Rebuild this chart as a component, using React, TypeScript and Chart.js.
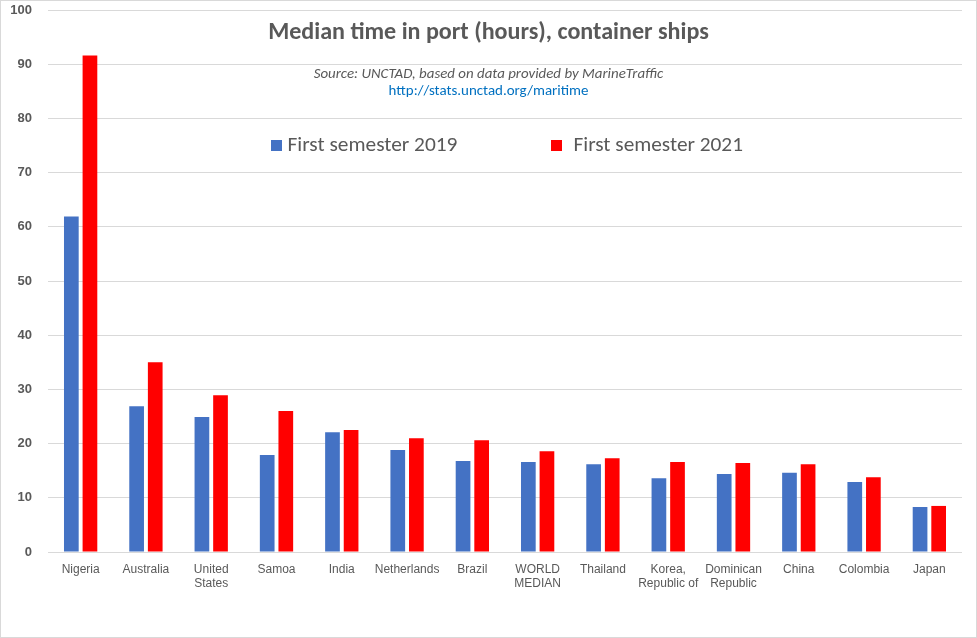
import React, { useEffect, useRef } from "react";
import { Chart, registerables } from "chart.js";

Chart.register(...registerables);

const categories: (string | string[])[] = [
  "Nigeria",
  "Australia",
  ["United", "States"],
  "Samoa",
  "India",
  "Netherlands",
  "Brazil",
  ["WORLD", "MEDIAN"],
  "Thailand",
  ["Korea,", "Republic of"],
  ["Dominican", "Republic"],
  "China",
  "Colombia",
  "Japan",
];

const series2019Label = "First semester 2019";
const series2021Label = "First semester 2021";

const values2019 = [61.9, 26.9, 24.9, 17.9, 22.1, 18.8, 16.8, 16.6, 16.2, 13.6, 14.4, 14.6, 12.9, 8.3];
const values2021 = [91.6, 35.0, 28.9, 26.0, 22.5, 21.0, 20.6, 18.6, 17.3, 16.6, 16.4, 16.2, 13.8, 8.5];

const titleText = "Median time in port (hours), container ships";
const sourceText = "Source: UNCTAD, based on data provided by MarineTraffic";
const urlText = "http://stats.unctad.org/maritime";

const yMin = 0;
const yMax = 100;
const yStep = 10;

const W = 977;
const H = 638;

function fitSize(ctx: CanvasRenderingContext2D, text: string, prefix: string, family: string, target: number) {
  ctx.font = `${prefix} 100px ${family}`;
  const w = ctx.measureText(text).width;
  return (100 * target) / w;
}

const overlayPlugin = {
  id: "overlay",
  beforeDraw(chart: any) {
    const ctx = chart.ctx as CanvasRenderingContext2D;
    ctx.save();
    ctx.fillStyle = "#ffffff";
    ctx.fillRect(0, 0, chart.width, chart.height);
    ctx.restore();
  },
  afterDraw(chart: any) {
    const ctx = chart.ctx as CanvasRenderingContext2D;
    const fam = "Carlito, Lato, 'Noto Sans', sans-serif";
    const cx = chart.width / 2;
    ctx.save();
    ctx.textBaseline = "middle";
    ctx.textAlign = "center";

    // title
    let s = fitSize(ctx, titleText, "bold", fam, 441);
    ctx.font = `bold ${s}px ${fam}`;
    ctx.fillStyle = "#595959";
    ctx.fillText(titleText, cx, 33);

    // source
    s = fitSize(ctx, sourceText, "italic", fam, 350);
    ctx.font = `italic ${s}px ${fam}`;
    ctx.fillStyle = "#595959";
    ctx.fillText(sourceText, cx, 74);

    // url
    s = fitSize(ctx, urlText, "", fam, 200);
    ctx.font = `${s}px ${fam}`;
    ctx.fillStyle = "#0070C0";
    ctx.fillText(urlText, cx, 91);

    // legend
    const ds = chart.data.datasets;
    const legendItems = [
      { boxX: 271, textX: 287.5, width: 170 },
      { boxX: 551, textX: 573.5, width: 169.5 },
    ];
    ctx.textAlign = "left";
    ds.forEach((d: any, i: number) => {
      const it = legendItems[i];
      ctx.fillStyle = d.backgroundColor;
      ctx.fillRect(it.boxX, 140, 11, 11);
      const fs = fitSize(ctx, d.label, "", fam, it.width);
      ctx.font = `${fs}px ${fam}`;
      ctx.fillStyle = "#595959";
      ctx.fillText(d.label, it.textX, 146);
    });

    // outer border
    ctx.strokeStyle = "#d9d9d9";
    ctx.lineWidth = 1;
    ctx.strokeRect(0.5, 0.5, chart.width - 1, chart.height - 1);
    ctx.restore();
  },
};

export default function App() {
  const ref = useRef<HTMLCanvasElement | null>(null);

  useEffect(() => {
    document.body.style.margin = "0";
    const canvas = ref.current;
    if (!canvas) return;
    const chart = new Chart(canvas, {
      type: "bar",
      data: {
        labels: categories,
        datasets: [
          {
            label: series2019Label,
            data: values2019,
            backgroundColor: "#4472C4",
            categoryPercentage: 0.57,
            barPercentage: 0.79,
          },
          {
            label: series2021Label,
            data: values2021,
            backgroundColor: "#FF0000",
            categoryPercentage: 0.57,
            barPercentage: 0.79,
          },
        ],
      },
      options: {
        animation: false,
        responsive: false,
        maintainAspectRatio: false,
        devicePixelRatio: 1,
        layout: { padding: { left: 0, right: 15, top: 10, bottom: 0 } },
        plugins: {
          legend: { display: false },
          title: { display: false },
          tooltip: { enabled: false },
        },
        scales: {
          x: {
            grid: { display: false, drawTicks: false },
            border: { display: false },
            ticks: {
              color: "#595959",
              font: { family: "'Liberation Sans', Arial, sans-serif", size: 12, lineHeight: 1.2 },
              padding: 10,
              maxRotation: 0,
              autoSkip: false,
            },
            afterFit: (s: any) => {
              s.height = 86;
              s.paddingLeft = 0;
              s.paddingRight = 0;
            },
          },
          y: {
            min: yMin,
            max: yMax,
            grid: { color: "#d9d9d9", lineWidth: 1, drawTicks: false },
            border: { display: false },
            ticks: {
              stepSize: yStep,
              color: "#595959",
              font: { family: "'Liberation Sans', Arial, sans-serif", size: 13, weight: "bold" },
              padding: 16,
            },
            afterFit: (s: any) => {
              s.width = 48;
              s.paddingTop = 0;
              s.paddingBottom = 0;
            },
          },
        },
      },
      plugins: [overlayPlugin],
    });
    return () => chart.destroy();
  }, []);

  return (
    <div style={{ width: W, height: H }}>
      <canvas ref={ref} width={W} height={H} style={{ width: W, height: H, display: "block" }} />
    </div>
  );
}
